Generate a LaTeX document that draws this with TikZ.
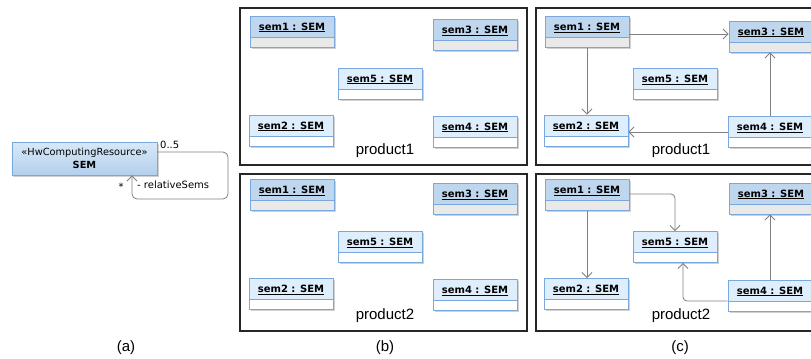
\documentclass[tikz,border=0pt]{standalone}
\usepackage{fontspec}
\usetikzlibrary{arrows.meta,shadows}
\newfontfamily\umlfont{DejaVu Sans}
\newfontfamily\capfont{Liberation Sans}

\definecolor{umlline}{RGB}{122,168,220}
\definecolor{hdrdark}{RGB}{190,214,238}
\definecolor{hdrlight}{RGB}{222,238,252}
\definecolor{cmpgray}{RGB}{233,233,233}
\definecolor{linkgray}{RGB}{128,128,128}

\tikzset{
    objbox/.style 2 args={draw=umlline, line width=0.9bp, fill=#2, minimum width=84bp, inner sep=0pt,
        text height=14bp, text depth=17bp, font=\umlfont\fontsize{10bp}{11bp}\selectfont\bfseries,
        drop shadow={shadow xshift=1.5bp, shadow yshift=-1.5bp, fill=black!18, draw=none, opacity=1},
        path picture={
            \fill[#1] (path picture bounding box.north west) rectangle ([yshift=-21bp]path picture bounding box.north east);
            \draw[umlline, line width=0.9bp] ([yshift=-21bp]path picture bounding box.north west) -- ([yshift=-21bp]path picture bounding box.north east);
        }},
    semdark/.style={objbox={hdrdark}{cmpgray}},
    semlight/.style={objbox={hdrlight}{white}},
    assoc/.style={draw=linkgray, line width=0.8bp, -{Straight Barb[length=5bp,width=10bp]}},
    frame/.style={draw=black!85, line width=1.2bp},
    caption/.style={font=\capfont\fontsize{15bp}{18bp}\selectfont, inner sep=0pt, anchor=base},
    role/.style={font=\umlfont\fontsize{10bp}{11bp}\selectfont, inner sep=0pt},
}

\begin{document}
\begin{tikzpicture}[x=1bp, y=-1bp]
        \useasboundingbox (0,0) rectangle (811,358);
        \clip (0,0) rectangle (811,358);

        % Frames
        \draw[frame] (240,8) rectangle (527,165);
        \draw[frame] (240,174) rectangle (527,331);
        \draw[frame] (536,8) rectangle (830,165);
        \draw[frame] (536,174) rectangle (830,331);

        % (a) class with self association
        \node[draw=umlline, line width=0.9bp, top color=hdrlight!80!hdrdark, bottom color=hdrdark!85!umlline,
              minimum width=145bp, minimum height=33bp, inner sep=0pt, align=center,
              font=\umlfont\fontsize{9.8bp}{13bp}\selectfont,
              drop shadow={shadow xshift=1.5bp, shadow yshift=-1.5bp, fill=black!18, draw=none, opacity=1}]
              at (84.5, 158.5) (hw) {«HwComputingResource»\\\textbf{SEM}};

        \draw[assoc, rounded corners=5bp] (hw.east |- 0,152) -- (228,152) -- (228,199) -- (132,199) -- (hw.south -| 132,0);
        \node[role, anchor=base west] at (160, 148) (multa) {0..5};
        \node[role] at (121, 187) (multb) {*};
        \node[role, anchor=west] at (137, 185) (rolename) {- relativeSems};

        % (b) product1
        \node[semdark]  at (292, 31.5)  (b1s1) {\underline{sem1 : SEM}};
        \node[semdark]  at (475, 35)    (b1s3) {\underline{sem3 : SEM}};
        \node[semlight] at (380, 83.5)  (b1s5) {\underline{sem5 : SEM}};
        \node[semlight] at (291, 130.5) (b1s2) {\underline{sem2 : SEM}};
        \node[semlight] at (475, 131.5) (b1s4) {\underline{sem4 : SEM}};
        \node[caption]  at (385, 154)   (b1lbl) {product1};

        % (b) product2
        \node[semdark]  at (292, 195)   (b2s1) {\underline{sem1 : SEM}};
        \node[semdark]  at (475, 199)   (b2s3) {\underline{sem3 : SEM}};
        \node[semlight] at (380, 247)   (b2s5) {\underline{sem5 : SEM}};
        \node[semlight] at (291, 294)   (b2s2) {\underline{sem2 : SEM}};
        \node[semlight] at (475, 295)   (b2s4) {\underline{sem4 : SEM}};
        \node[caption]  at (385, 319)   (b2lbl) {product2};

        % (c) product1
        \node[semdark]  at (587, 32)    (c1s1) {\underline{sem1 : SEM}};
        \node[semdark]  at (771, 36.5)  (c1s3) {\underline{sem3 : SEM}};
        \node[semlight] at (675, 84)    (c1s5) {\underline{sem5 : SEM}};
        \node[semlight] at (586, 130.5) (c1s2) {\underline{sem2 : SEM}};
        \node[semlight] at (770, 132)   (c1s4) {\underline{sem4 : SEM}};
        \node[caption]  at (681, 154)   (c1lbl) {product1};

        % (c) product2
        \node[semdark]  at (587, 195)   (c2s1) {\underline{sem1 : SEM}};
        \node[semdark]  at (771, 198.5) (c2s3) {\underline{sem3 : SEM}};
        \node[semlight] at (675, 247)   (c2s5) {\underline{sem5 : SEM}};
        \node[semlight] at (586, 294)   (c2s2) {\underline{sem2 : SEM}};
        \node[semlight] at (770, 295.5) (c2s4) {\underline{sem4 : SEM}};
        \node[caption]  at (681, 319)   (c2lbl) {product2};

        \draw[assoc] ([yshift=-2bp]c1s1.east) -- ([yshift=-2bp]c1s1.east -| c1s3.west);
        \draw[assoc] (c1s1.south) -- (c1s1.south |- c1s2.north);
        \draw[assoc] (c1s4.north) -- (c1s4.north |- c1s3.south);
        \draw[assoc] (c1s4.west) -- (c1s4.west -| c1s2.east);

        \draw[assoc] (c2s1.south) -- (c2s1.south |- c2s2.north);
        \draw[assoc, rounded corners=4bp] ([yshift=1bp]c2s1.east) -| (c2s5.north);
        \draw[assoc] (c2s4.north) -- (c2s4.north |- c2s3.south);
        \draw[assoc, rounded corners=4bp] ([yshift=-5.5bp]c2s4.west) -| ([xshift=8bp]c2s5.south);

        % Captions
        \node[caption] at (126, 351) (capa) {(a)};
        \node[caption] at (385, 351) (capb) {(b)};
        \node[caption] at (680, 351) (capc) {(c)};
\end{tikzpicture}
\end{document}
